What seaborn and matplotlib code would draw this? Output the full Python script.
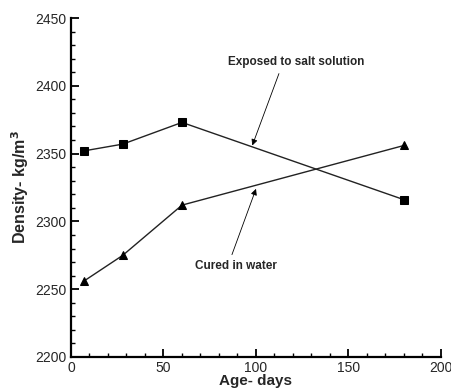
import pandas as pd
import matplotlib.pyplot as plt
import seaborn as sns
from matplotlib.ticker import MultipleLocator

# Data
age_days = [7, 28, 60, 180]
salt_density = [2352, 2357, 2373, 2316]
water_density = [2256, 2275, 2312, 2356]
series_names = ["Exposed to salt solution", "Cured in water"]

df = pd.DataFrame({
    "Age": age_days * 2,
    "Density": salt_density + water_density,
    "Series": [series_names[0]] * 4 + [series_names[1]] * 4,
})

sns.set_theme(style="white")
plt.rcParams['font.family'] = ['Liberation Sans', 'DejaVu Sans']

fig = plt.figure(figsize=(4.52, 3.88), dpi=100)
ax = fig.add_axes([71 / 452, 1 - 357 / 388, 370 / 452, 339 / 388])

sns.lineplot(
    data=df, x="Age", y="Density", style="Series", hue="Series",
    palette=["#222222", "#222222"], markers={series_names[0]: "s", series_names[1]: "^"},
    dashes=False, markersize=6, linewidth=1, markeredgecolor="black",
    legend=False, ax=ax,
)
for line in ax.lines:
    line.set_markerfacecolor("black")

ax.set_xlim(0, 200)
ax.set_ylim(2200, 2450)
ax.xaxis.set_major_locator(MultipleLocator(50))
ax.xaxis.set_minor_locator(MultipleLocator(10))
ax.yaxis.set_major_locator(MultipleLocator(50))
ax.yaxis.set_minor_locator(MultipleLocator(10))
ax.tick_params(which="major", direction="in", length=6, width=1.3, color="black",
               labelsize=10, pad=3, bottom=True, left=True)
ax.tick_params(which="minor", direction="in", length=3, width=1, color="black",
               bottom=True, left=True)

for side in ["top", "right"]:
    ax.spines[side].set_visible(False)
for side in ["left", "bottom"]:
    ax.spines[side].set_color("black")
    ax.spines[side].set_linewidth(1.6)

ax.set_xlabel("Age- days", fontsize=11, fontweight="bold", labelpad=-1)
ax.set_ylabel("Density- kg/m$^\\mathbf{3}$", fontsize=11.5, fontweight="bold", labelpad=3)

# labels and their arrows
ax.text(121.6, 2417.5, series_names[0], fontsize=8.5, fontweight="bold",
        ha="center", va="center")
ax.annotate("", xy=(98, 2356), xytext=(112.4, 2409),
            arrowprops=dict(arrowstyle="-|>", color="black", lw=0.6,
                            mutation_scale=9, shrinkA=0, shrinkB=0))
ax.text(89.2, 2267, series_names[1], fontsize=8.5, fontweight="bold",
        ha="center", va="center")
ax.annotate("", xy=(100, 2324), xytext=(87, 2275.5),
            arrowprops=dict(arrowstyle="-|>", color="black", lw=0.6,
                            mutation_scale=9, shrinkA=0, shrinkB=0))

fig.savefig("out.png", dpi=100)
